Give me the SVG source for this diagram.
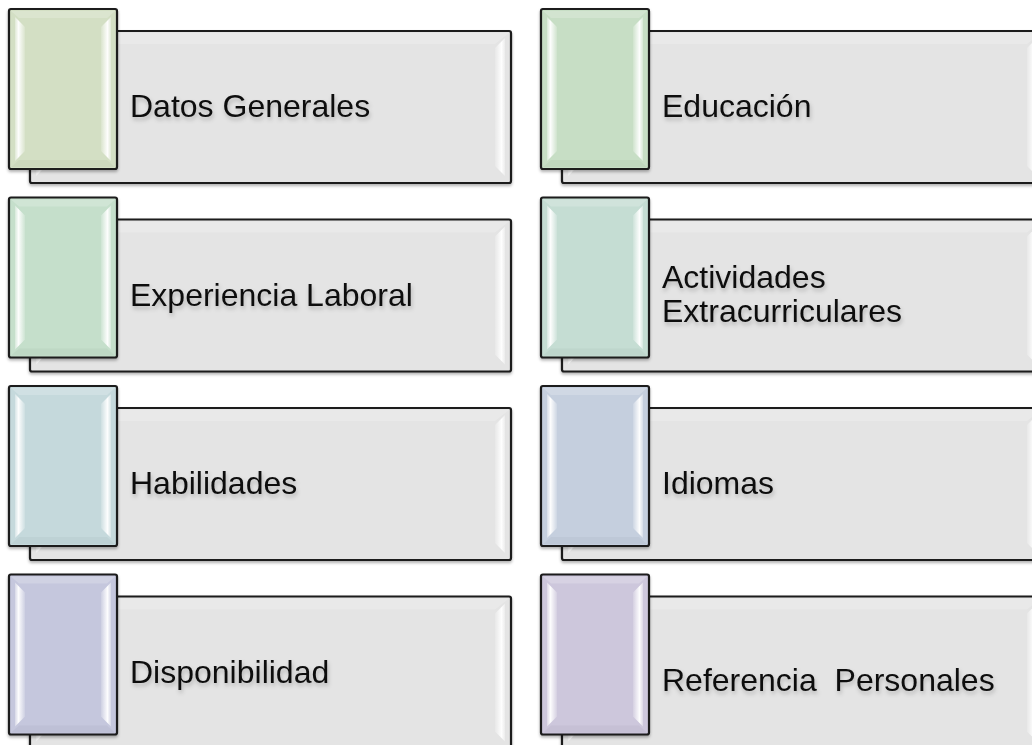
<svg xmlns="http://www.w3.org/2000/svg" width="1032" height="745" viewBox="0 0 1032 745">
<defs>
<style>
.big{fill:#e4e4e4;stroke:#1a1a1a;stroke-width:2.2;filter:url(#sh)}
.sm{stroke:#1a1a1a;stroke-width:2.2;filter:url(#sh)}
.bl{fill:url(#gl)}
.br{fill:url(#gr)}
.bt{fill:#ffffff;fill-opacity:0.2}
.bb{fill:#000000;fill-opacity:0.03}
.lbl{font-family:"Liberation Sans",Arial,sans-serif;font-size:32px;fill:#111;filter:url(#ts)}
</style>
<linearGradient id="gl" x1="0" y1="0" x2="1" y2="0">
<stop offset="0" stop-color="#fff" stop-opacity="0.3"/>
<stop offset="0.35" stop-color="#fff" stop-opacity="0.95"/>
<stop offset="1" stop-color="#fff" stop-opacity="0.15"/>
</linearGradient>
<linearGradient id="gr" x1="0" y1="0" x2="1" y2="0">
<stop offset="0" stop-color="#fff" stop-opacity="0.15"/>
<stop offset="0.65" stop-color="#fff" stop-opacity="0.95"/>
<stop offset="1" stop-color="#fff" stop-opacity="0.3"/>
</linearGradient>
<filter id="sh" x="-5%" y="-5%" width="110%" height="115%">
<feDropShadow dx="0" dy="2" stdDeviation="1.5" flood-color="#000" flood-opacity="0.3"/>
</filter>
<filter id="ts" x="-5%" y="-20%" width="110%" height="150%">
<feDropShadow dx="1" dy="3" stdDeviation="2.2" flood-color="#000" flood-opacity="0.22"/>
</filter>
<g id="bigb">
<rect class="big" x="30" y="31" width="481" height="152" rx="2"/>
<polygon class="bt" points="32,33 509,33 495,44 46,44"/>
<polygon class="bl" points="36,38 46,48 46,166 36,176"/>
<polygon class="br" points="505,38 495,48 495,166 505,176"/>
</g>
<g id="smb">
<polygon class="bt" points="11,11 115,11 107,18 19,18"/>
<polygon class="bb" points="11,167 115,167 107,160 19,160"/>
<polygon class="bl" points="15,17 25,27 25,151 15,161"/>
<polygon class="br" points="111,17 101,27 101,151 111,161"/>
</g>
</defs>
<rect width="1032" height="745" fill="#fff"/>
<g id="connectors"/>
<g id="n1" transform="translate(0,0)">
<use href="#bigb"/>
<rect class="sm" x="9" y="9" width="108" height="160" rx="2" fill="#d3dfc4"/>
<use href="#smb"/>
<text class="lbl" x="130" y="117">Datos Generales</text>
</g>
<g id="n2" transform="translate(532,0)">
<use href="#bigb"/>
<rect class="sm" x="9" y="9" width="108" height="160" rx="2" fill="#c7dec5"/>
<use href="#smb"/>
<text class="lbl" x="130" y="117">Educación</text>
</g>
<g id="n3" transform="translate(0,188.5)">
<use href="#bigb"/>
<rect class="sm" x="9" y="9" width="108" height="160" rx="2" fill="#c5dfcb"/>
<use href="#smb"/>
<text class="lbl" x="130" y="117">Experiencia Laboral</text>
</g>
<g id="n4" transform="translate(532,188.5)">
<use href="#bigb"/>
<rect class="sm" x="9" y="9" width="108" height="160" rx="2" fill="#c5ddd3"/>
<use href="#smb"/>
<text class="lbl" x="130" y="99">Actividades</text>
<text class="lbl" x="130" y="133">Extracurriculares</text>
</g>
<g id="n5" transform="translate(0,377)">
<use href="#bigb"/>
<rect class="sm" x="9" y="9" width="108" height="160" rx="2" fill="#c5d9dc"/>
<use href="#smb"/>
<text class="lbl" x="130" y="117">Habilidades</text>
</g>
<g id="n6" transform="translate(532,377)">
<use href="#bigb"/>
<rect class="sm" x="9" y="9" width="108" height="160" rx="2" fill="#c5cfde"/>
<use href="#smb"/>
<text class="lbl" x="130" y="117">Idiomas</text>
</g>
<g id="n7" transform="translate(0,565.5)">
<use href="#bigb"/>
<rect class="sm" x="9" y="9" width="108" height="160" rx="2" fill="#c5c7dd"/>
<use href="#smb"/>
<text class="lbl" x="130" y="117">Disponibilidad</text>
</g>
<g id="n8" transform="translate(532,565.5)">
<use href="#bigb"/>
<rect class="sm" x="9" y="9" width="108" height="160" rx="2" fill="#cdc7dc"/>
<use href="#smb"/>
<text class="lbl" x="130" y="125" xml:space="preserve">Referencia  Personales</text>
</g>
</svg>
